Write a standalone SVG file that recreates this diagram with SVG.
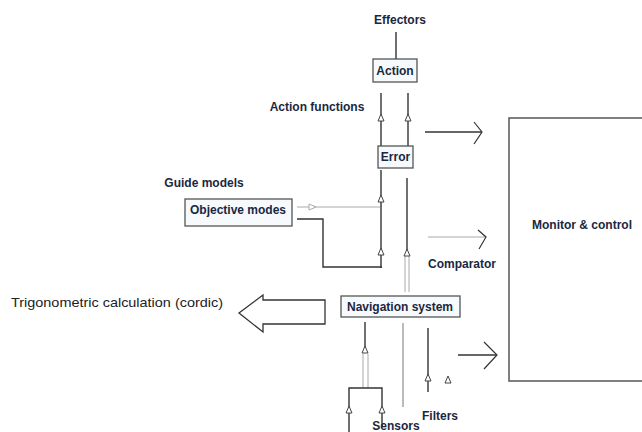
<svg xmlns="http://www.w3.org/2000/svg" xmlns:xlink="http://www.w3.org/1999/xlink" width="642" height="432" viewBox="0 0 642 432">
<style>
.lbl{font-family:"Liberation Sans",Arial,sans-serif;font-weight:bold;font-size:12px;fill:#1b2740;text-anchor:middle}
.plain{font-family:"Liberation Sans",Arial,sans-serif;font-size:13px;fill:#222}
.box{fill:#f7fafc;stroke:#555;stroke-width:1.3}
.ln{stroke:#333;stroke-width:1.4;fill:none}
.lg{stroke:#aaa;stroke-width:1;fill:none}
.chev{stroke:#333;stroke-width:1.2;fill:none}
</style>
<defs>
<path id="tri" d="M0,-4 L3,3 L-3,3 Z" fill="#fff" stroke="#444" stroke-width="1"/>
<path id="trir" d="M4,0 L-3,-3 L-3,3 Z" fill="#fff" stroke="#aaa" stroke-width="1"/>
</defs>
<rect width="642" height="432" fill="#fff"/>

<g id="connectors">
  <line class="ln" x1="396" y1="32" x2="396" y2="59"/>
  <line class="ln" x1="381" y1="93" x2="381" y2="147"/>
  <line class="ln" x1="408" y1="93" x2="408" y2="147"/>
  <use xlink:href="#tri" x="381" y="118"/>
  <use xlink:href="#tri" x="408" y="118"/>
  <line class="ln" x1="381" y1="170" x2="381" y2="268"/>
  <line class="ln" x1="407" y1="178" x2="407" y2="252"/>
  <line class="lg" x1="405" y1="255" x2="405" y2="292"/>
  <line class="lg" x1="409" y1="255" x2="409" y2="292"/>
  <use xlink:href="#tri" x="381" y="199"/>
  <use xlink:href="#tri" x="381" y="252"/>
  <use xlink:href="#tri" x="407" y="253"/>
  <line class="lg" x1="297" y1="207" x2="380" y2="207"/>
  <use xlink:href="#trir" x="312" y="207"/>
  <polyline class="ln" points="297,219 323,219 323,267 382,267"/>
  <line class="ln" x1="425" y1="132" x2="482" y2="132"/>
  <polyline class="chev" points="474,122 482,132 474,144"/>
  <line class="lg" x1="428" y1="237" x2="486" y2="237"/>
  <polyline class="chev" points="478,230 486,237 479,249"/>
  <line class="ln" x1="458" y1="355" x2="497" y2="355"/>
  <polyline class="chev" points="484,342 497,355 484,369"/>
  <line class="ln" x1="365" y1="322" x2="365" y2="348"/>
  <use xlink:href="#tri" x="365" y="350"/>
  <line class="lg" x1="363" y1="354" x2="363" y2="388"/>
  <line class="lg" x1="368" y1="354" x2="368" y2="388"/>
  <polyline class="ln" points="349,432 349,388 382,388 382,426"/>
  <use xlink:href="#tri" x="349" y="410"/>
  <use xlink:href="#tri" x="382" y="410"/>
  <line class="lg" x1="403" y1="323" x2="403" y2="407" style="stroke:#777"/>
  <line class="ln" x1="428" y1="328" x2="428" y2="392"/>
  <use xlink:href="#tri" x="428" y="378"/>
  <use xlink:href="#tri" x="448" y="380"/>
  <path d="M325,300 L263,300 L263,295 L239,313 L263,332 L263,324 L325,324 Z" fill="#fff" stroke="#333" stroke-width="1.3"/>
</g>

<g id="effectors"><text class="lbl" x="400" y="24">Effectors</text></g>
<g id="action">
  <rect class="box" x="373" y="59" width="44" height="23"/>
  <text class="lbl" x="395" y="75">Action</text>
</g>
<g id="action-functions"><text class="lbl" x="317" y="111">Action functions</text></g>
<g id="error">
  <rect class="box" x="378" y="146" width="35" height="22"/>
  <text class="lbl" x="395.5" y="161">Error</text>
</g>
<g id="guide-models"><text class="lbl" x="204" y="187">Guide models</text></g>
<g id="objective-modes">
  <rect class="box" x="185" y="199" width="107" height="27"/>
  <text class="lbl" x="238" y="214">Objective modes</text>
</g>
<g id="comparator"><text class="lbl" x="462" y="268">Comparator</text></g>
<g id="navigation">
  <rect class="box" x="341" y="296" width="119" height="21"/>
  <text class="lbl" x="400" y="311">Navigation system</text>
</g>
<g id="trig"><text class="plain" x="11" y="307" textLength="212" lengthAdjust="spacingAndGlyphs">Trigonometric calculation (cordic)</text></g>
<g id="monitor">
  <path d="M650,118 L509,118 L509,381 L650,381" fill="#fff" stroke="#555" stroke-width="1.5"/>
  <text class="lbl" x="582" y="229">Monitor &amp; control</text>
</g>
<g id="sensors"><text class="lbl" x="396" y="430">Sensors</text></g>
<g id="filters"><text class="lbl" x="440" y="420">Filters</text></g>
</svg>
